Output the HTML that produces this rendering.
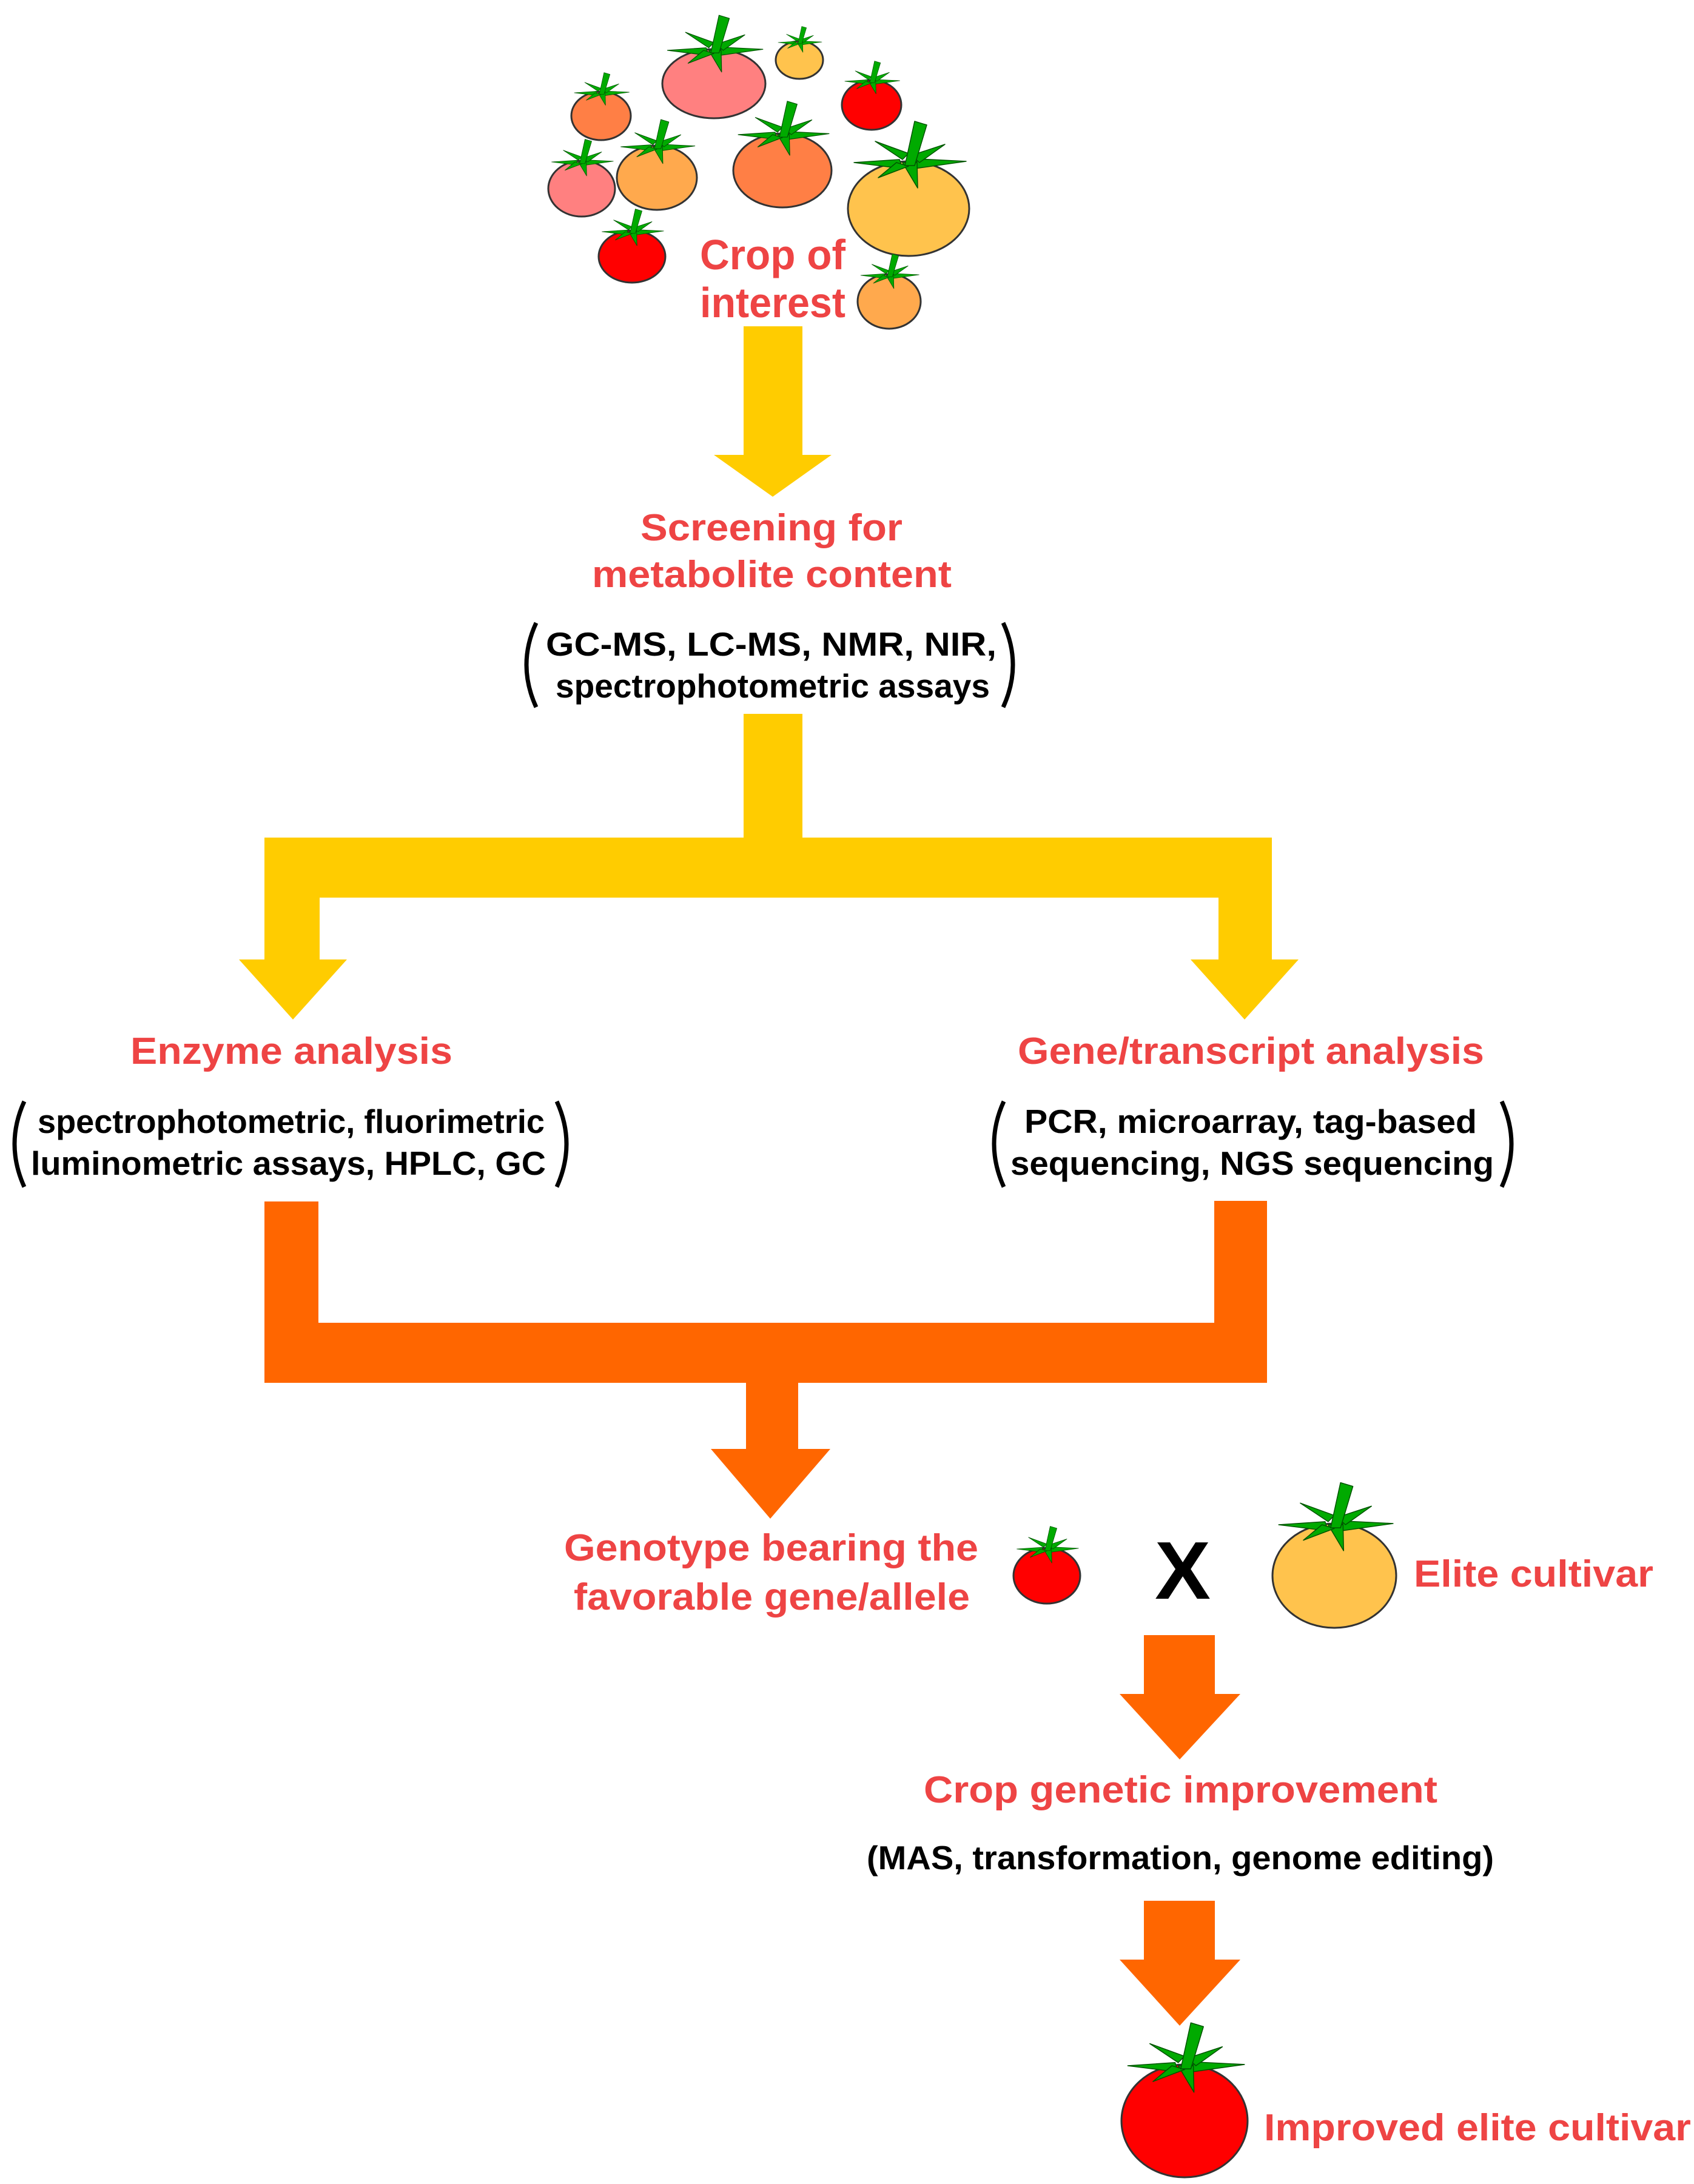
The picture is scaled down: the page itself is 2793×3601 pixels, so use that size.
<!DOCTYPE html>
<html><head><meta charset="utf-8"><style>
html,body{margin:0;padding:0;background:#fff}
svg{display:block}
.r{font-family:"Liberation Sans",sans-serif;font-weight:bold;fill:#ee4444;font-size:62px}
.b{font-family:"Liberation Sans",sans-serif;font-weight:bold;fill:#000;font-size:55px}
</style></head><body>
<svg width="2793" height="3601" viewBox="0 0 2793 3601" xmlns="http://www.w3.org/2000/svg">
<defs>
<g id="leaf" fill="#00aa00" stroke="#005500" stroke-width="0.015" stroke-linejoin="round">
<polygon points="-0.15,-0.05 -0.9,0.0 -0.1,0.1"/>
<polygon points="0.15,-0.06 0.95,-0.02 0.1,0.1"/>
<polygon points="-0.1,-0.05 -0.55,-0.35 0.0,-0.15"/>
<polygon points="0.05,-0.12 0.6,-0.3 0.18,0.0"/>
<polygon points="-0.1,0.0 0.15,0.42 0.14,0.0"/>
<polygon points="-0.2,0.0 -0.5,0.25 0.0,0.06"/>
<polygon points="-0.06,0.05 0.1,-0.68 0.3,-0.62 0.1,0.05"/>
</g>
</defs>
<g stroke="#333" stroke-width="3">
<ellipse cx="1177" cy="138" rx="85" ry="57" fill="#ff8080"/>
<ellipse cx="1318" cy="99" rx="39" ry="31" fill="#ffc34d"/>
<ellipse cx="1437" cy="173" rx="49" ry="41" fill="#ff0000"/>
<ellipse cx="991" cy="191" rx="49" ry="40" fill="#ff7f45"/>
<ellipse cx="959" cy="311" rx="55" ry="46" fill="#ff8080"/>
<ellipse cx="1083" cy="293" rx="66" ry="53" fill="#ffa94d"/>
<ellipse cx="1290" cy="281" rx="81" ry="61" fill="#ff7f45"/>
<ellipse cx="1498" cy="344" rx="100" ry="78" fill="#ffc34d"/>
<ellipse cx="1042" cy="423" rx="55" ry="43" fill="#ff0000"/>
<ellipse cx="1466" cy="497" rx="52" ry="45" fill="#ffa94d"/>
<ellipse cx="1726" cy="2598" rx="55" ry="46" fill="#ff0000"/>
<ellipse cx="2200" cy="2598" rx="102" ry="86" fill="#ffc34d"/>
<ellipse cx="1953" cy="3497" rx="104" ry="93" fill="#ff0000"/>
</g>
<use href="#leaf" transform="translate(1177,83) scale(85)"/>
<use href="#leaf" transform="translate(1318,70) scale(39)"/>
<use href="#leaf" transform="translate(1437,134) scale(49)"/>
<use href="#leaf" transform="translate(991,153) scale(49)"/>
<use href="#leaf" transform="translate(959,267) scale(55)"/>
<use href="#leaf" transform="translate(1083,242) scale(66)"/>
<use href="#leaf" transform="translate(1290,222) scale(81)"/>
<use href="#leaf" transform="translate(1498,268) scale(100)"/>
<use href="#leaf" transform="translate(1042,382) scale(55)"/>
<use href="#leaf" transform="translate(1466,454) scale(52)"/>
<use href="#leaf" transform="translate(1726,2554) scale(55)"/>
<use href="#leaf" transform="translate(2200,2514) scale(102)"/>
<use href="#leaf" transform="translate(1953,3406) scale(104)"/>

<g fill="#ffcc00">
<rect x="1226" y="538" width="97" height="212"/>
<polygon points="1177,750 1371,750 1274,819"/>
<rect x="1226" y="1177" width="97" height="220"/>
<rect x="436" y="1381" width="1661" height="99"/>
<rect x="436" y="1381" width="91" height="201"/>
<polygon points="394,1582 572,1582 483,1681"/>
<rect x="2009" y="1381" width="88" height="201"/>
<polygon points="1963,1582 2141,1582 2052,1681"/>
</g>
<g fill="#ff6600">
<rect x="436" y="1981" width="89" height="299"/>
<rect x="2002" y="1980" width="87" height="300"/>
<rect x="436" y="2181" width="1653" height="99"/>
<rect x="1230" y="2280" width="86" height="110"/>
<polygon points="1172,2389 1369,2389 1270,2504"/>
<rect x="1886" y="2696" width="117" height="97"/>
<polygon points="1846,2793 2045,2793 1945,2901"/>
<rect x="1886" y="3134" width="117" height="97"/>
<polygon points="1846,3231 2045,3231 1945,3340"/>
</g>

<g fill="none" stroke="#000" stroke-width="7">
<path d="M884,1027 Q852,1096 884,1166"/>
<path d="M1654,1027 Q1686,1096 1654,1166"/>
<path d="M40,1816 Q8,1886 40,1957"/>
<path d="M918,1816 Q950,1886 918,1957"/>
<path d="M1655,1816 Q1623,1886 1655,1957"/>
<path d="M2476,1816 Q2508,1886 2476,1957"/>
</g>

<text class="r" style="font-size:70px" x="1154" y="444" textLength="240" lengthAdjust="spacingAndGlyphs">Crop of</text>
<text class="r" style="font-size:70px" x="1154" y="523" textLength="240" lengthAdjust="spacingAndGlyphs">interest</text>
<text class="r" x="1056" y="891" textLength="432" lengthAdjust="spacingAndGlyphs">Screening for</text>
<text class="r" x="976" y="968" textLength="593" lengthAdjust="spacingAndGlyphs">metabolite content</text>
<text class="b" x="900" y="1081" textLength="743" lengthAdjust="spacingAndGlyphs">GC-MS, LC-MS, NMR, NIR,</text>
<text class="b" x="916" y="1150" textLength="716" lengthAdjust="spacingAndGlyphs">spectrophotometric assays</text>
<text class="r" x="215" y="1754" textLength="531" lengthAdjust="spacingAndGlyphs">Enzyme analysis</text>
<text class="b" x="62" y="1868" textLength="836" lengthAdjust="spacingAndGlyphs">spectrophotometric, fluorimetric</text>
<text class="b" x="51" y="1937" textLength="849" lengthAdjust="spacingAndGlyphs">luminometric assays, HPLC, GC</text>
<text class="r" x="1678" y="1754" textLength="769" lengthAdjust="spacingAndGlyphs">Gene/transcript analysis</text>
<text class="b" x="1689" y="1868" textLength="746" lengthAdjust="spacingAndGlyphs">PCR, microarray, tag-based</text>
<text class="b" x="1666" y="1937" textLength="797" lengthAdjust="spacingAndGlyphs">sequencing, NGS sequencing</text>
<text class="r" x="930" y="2573" textLength="683" lengthAdjust="spacingAndGlyphs">Genotype bearing the</text>
<text class="r" x="946" y="2654" textLength="653" lengthAdjust="spacingAndGlyphs">favorable gene/allele</text>
<text x="1904" y="2636" style="font-family:'Liberation Sans',sans-serif;font-weight:bold;font-size:135px" textLength="92" lengthAdjust="spacingAndGlyphs">X</text>
<text class="r" x="2331" y="2616" textLength="395" lengthAdjust="spacingAndGlyphs">Elite cultivar</text>
<text class="r" x="1523" y="2972" textLength="847" lengthAdjust="spacingAndGlyphs">Crop genetic improvement</text>
<text class="b" x="1429" y="3082" textLength="1034" lengthAdjust="spacingAndGlyphs">(MAS, transformation, genome editing)</text>
<text class="r" x="2084" y="3529" textLength="704" lengthAdjust="spacingAndGlyphs">Improved elite cultivar</text>
</svg>
</body></html>
